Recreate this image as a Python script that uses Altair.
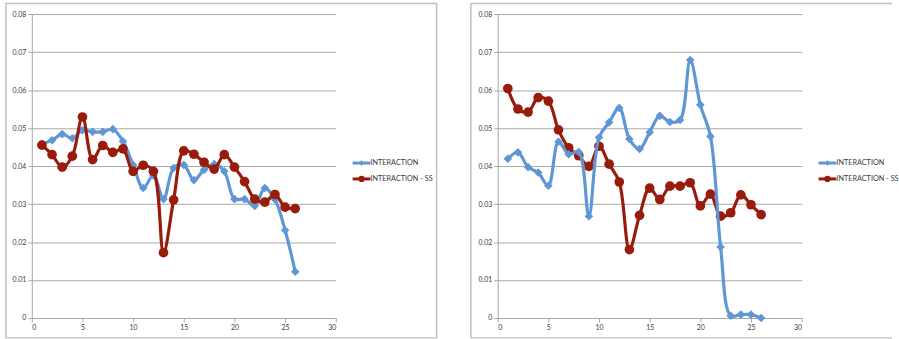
import altair as alt
import pandas as pd

# x positions (1..26) shared by every series
x_vals = list(range(1, 27))

# left panel
left_interaction = [0.0458, 0.0468, 0.0484, 0.0473, 0.0494, 0.0490, 0.0490, 0.0497, 0.0465, 0.0403,
                    0.0342, 0.0375, 0.0313, 0.0395, 0.0403, 0.0363, 0.0390, 0.0405, 0.0386, 0.0313,
                    0.0313, 0.0295, 0.0342, 0.0312, 0.0231, 0.0122]
left_interaction_ss = [0.0455, 0.0430, 0.0397, 0.0426, 0.0529, 0.0417, 0.0454, 0.0436, 0.0445, 0.0386,
                       0.0402, 0.0386, 0.0172, 0.0311, 0.0440, 0.0431, 0.0410, 0.0392, 0.0430, 0.0397,
                       0.0359, 0.0313, 0.0305, 0.0325, 0.0292, 0.0288]

# right panel
right_interaction = [0.0419, 0.0436, 0.0397, 0.0383, 0.0348, 0.0464, 0.0431, 0.0437, 0.0268, 0.0475,
                     0.0515, 0.0553, 0.0471, 0.0445, 0.0489, 0.0532, 0.0516, 0.0521, 0.0679, 0.0561,
                     0.0478, 0.0187, 0.0006, 0.0009, 0.0009, 0.0000]
right_interaction_ss = [0.0604, 0.0550, 0.0542, 0.0580, 0.0571, 0.0495, 0.0448, 0.0427, 0.0399, 0.0452,
                        0.0405, 0.0358, 0.0180, 0.0270, 0.0342, 0.0312, 0.0347, 0.0347, 0.0356, 0.0295,
                        0.0326, 0.0268, 0.0277, 0.0324, 0.0298, 0.0272]

series_names = ["INTERACTION", "INTERACTION - SS"]
y_ticks = [0, 0.01, 0.02, 0.03, 0.04, 0.05, 0.06, 0.07, 0.08]
x_ticks = [0, 5, 10, 15, 20, 25, 30]

BLUE = "#5f97d4"
RED = "#991b0b"
GRID = "#a8a8a8"
FRAME = "#c0c0c0"
TEXT = "#3a3a3a"
FONT = "Lato"
W = 306
H = 306
FRAME_BOTTOM = 326

one = pd.DataFrame({"k": [0]})


def series_layers(vals, color, shape, size):
    df = pd.DataFrame({"x": x_vals, "y": vals})
    xenc = alt.X("x:Q", scale=alt.Scale(domain=[0, 30], nice=False, zero=False),
                 axis=alt.Axis(values=x_ticks, title=None, grid=False))
    yenc = alt.Y("y:Q", scale=alt.Scale(domain=[0, 0.08], nice=False),
                 axis=alt.Axis(values=y_ticks, title=None, grid=True, format=".2~f"))
    line = alt.Chart(df).mark_line(color=color, strokeWidth=3.2, interpolate="catmull-rom").encode(x=xenc, y=yenc)
    pts = alt.Chart(df).mark_point(shape=shape, filled=True, size=size, color=color, opacity=1).encode(x=xenc, y=yenc)
    return [line, pts]


def legend_entry(name, color, shape, size, ypos):
    d = pd.DataFrame({"name": [name]})
    rule = alt.Chart(d).mark_rule(color=color, strokeWidth=3).encode(
        x=alt.value(323), x2=alt.value(341), y=alt.value(ypos))
    mark = alt.Chart(d).mark_point(shape=shape, filled=True, size=size, color=color, opacity=1).encode(
        x=alt.value(332), y=alt.value(ypos))
    label = alt.Chart(d).mark_text(align="left", baseline="middle", fontSize=7.3, font=FONT, color=TEXT).encode(
        x=alt.value(341), y=alt.value(ypos), text="name:N")
    return [rule, mark, label]


def panel(blue_vals, red_vals, blue_on_top, right_side):
    blue = series_layers(blue_vals, BLUE, "diamond", 75)
    red = series_layers(red_vals, RED, "circle", 95)
    data_layers = red + blue if blue_on_top else blue + red
    if right_side:
        frame = [
            alt.Chart(one).mark_rule(color=FRAME, strokeWidth=1.5).encode(
                x=alt.value(-27), y=alt.value(-10.5), y2=alt.value(FRAME_BOTTOM)),
            alt.Chart(one).mark_rule(color=FRAME, strokeWidth=1.5).encode(
                x=alt.value(-27), x2=alt.value(397), y=alt.value(-10.5)),
            alt.Chart(one).mark_rule(color=FRAME, strokeWidth=1.5).encode(
                x=alt.value(-27), x2=alt.value(397), y=alt.value(FRAME_BOTTOM)),
        ]
    else:
        frame = [alt.Chart(one).mark_rect(fillOpacity=0, stroke=FRAME, strokeWidth=1.5).encode(
            x=alt.value(-26), x2=alt.value(407.5), y=alt.value(-10.5), y2=alt.value(FRAME_BOTTOM))]
    legend = legend_entry(series_names[0], BLUE, "diamond", 30, 150) + \
        legend_entry(series_names[1], RED, "circle", 40, 166)
    return alt.layer(*frame, *data_layers, *legend).properties(width=W, height=H)


left = panel(left_interaction, left_interaction_ss, False, False)
right = panel(right_interaction, right_interaction_ss, True, True)

chart = alt.hconcat(left, right, spacing=32).properties(
    padding={"left": 5, "top": 1, "right": 0, "bottom": 0},
    background="white",
).configure_view(stroke=None).configure_axis(
    domainColor=GRID,
    tickColor=GRID,
    gridColor=GRID,
    gridWidth=1,
    tickSize=4,
    labelFontSize=7,
    labelFont=FONT,
    labelColor=TEXT,
    labelPadding=2,
)

chart.save("out.html", embed_options={"renderer": "svg", "actions": False})
